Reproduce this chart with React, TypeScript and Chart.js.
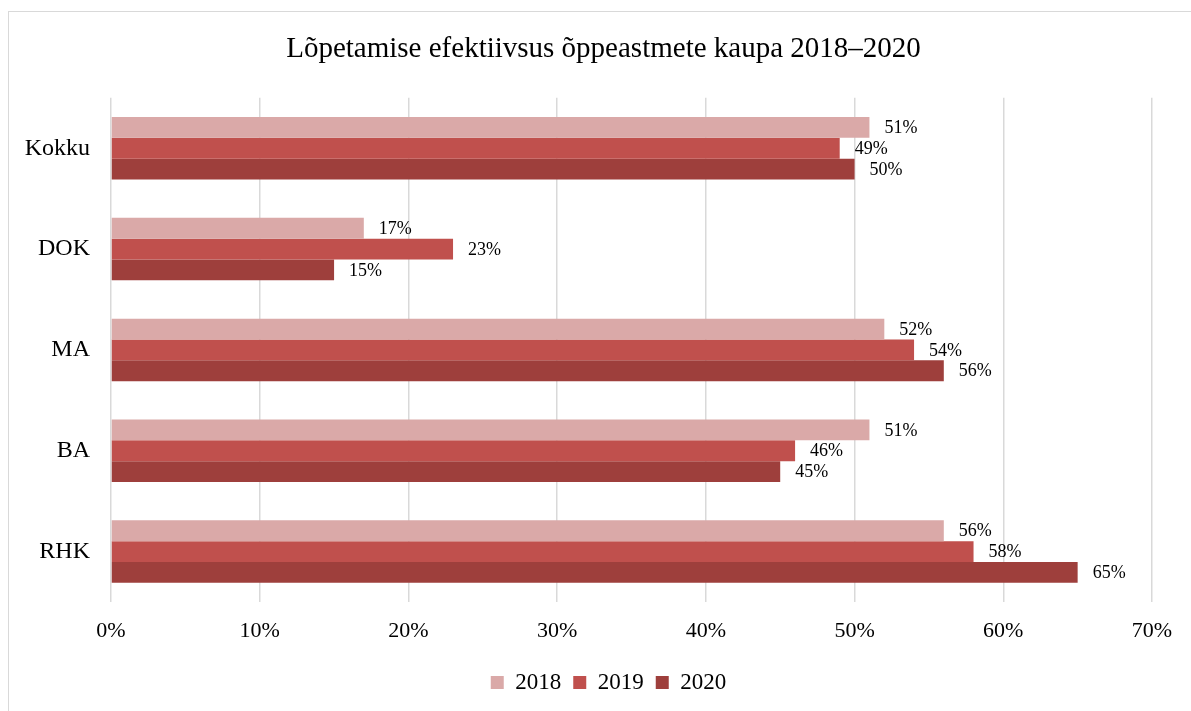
import React, { useEffect, useRef } from "react";
import { Chart, registerables } from "chart.js";

Chart.register(...registerables);

const categories = ["Kokku", "DOK", "MA", "BA", "RHK"];
const seriesNames = ["2018", "2019", "2020"];
const values2018 = [51, 17, 52, 51, 56];
const values2019 = [49, 23, 54, 46, 58];
const values2020 = [50, 15, 56, 45, 65];
const colors = ["#DAA9A8", "#C0504D", "#9E3F3C"];
const title = "Lõpetamise efektiivsus õppeastmete kaupa 2018–2020";

const FONT = '"Liberation Serif", "Times New Roman", serif';

const valueLabels = {
  id: "valueLabels",
  afterLayout(chart: any) {
    if (chart.titleBlock) {
      chart.titleBlock.left += 23;
      chart.titleBlock.right += 23;
    }
    if (chart.legend) {
      chart.legend.left += 28;
      chart.legend.right += 28;
    }
  },
  afterDatasetsDraw(chart: any) {
    const ctx = chart.ctx;
    ctx.save();
    ctx.font = `18px ${FONT}`;
    ctx.fillStyle = "#000";
    ctx.textAlign = "left";
    ctx.textBaseline = "middle";
    chart.data.datasets.forEach((ds: any, i: number) => {
      const meta = chart.getDatasetMeta(i);
      meta.data.forEach((bar: any, j: number) => {
        ctx.fillText(ds.data[j] + "%", bar.x + 15, bar.y + 1);
      });
    });
    ctx.restore();
  },
};

export default function App() {
  const ref = useRef<HTMLCanvasElement>(null);
  useEffect(() => {
    if (!ref.current) return;
    const chart = new Chart(ref.current, {
      type: "bar",
      data: {
        labels: categories,
        datasets: [values2018, values2019, values2020].map((d, i) => ({
          label: seriesNames[i],
          data: d,
          backgroundColor: colors[i],
          borderWidth: 0,
          categoryPercentage: 0.62,
          barPercentage: 1,
        })),
      },
      options: {
        indexAxis: "y",
        responsive: false,
        animation: false,
        layout: { padding: { left: 0, right: 39, top: 0, bottom: 7 } },
        scales: {
          x: {
            min: 0,
            max: 70,
            ticks: {
              stepSize: 10,
              callback: (v: any) => v + "%",
              font: { family: FONT, size: 22 },
              color: "#000",
              padding: 16,
            },
            grid: { color: "#d9d9d9", lineWidth: 1.5, drawTicks: false },
            border: { display: false },
            afterFit: (s: any) => {
              s.height = 57;
            },
          },
          y: {
            ticks: {
              font: { family: FONT, size: 24 },
              color: "#000",
              padding: 21,
              crossAlign: "near",
            },
            grid: { display: false, drawTicks: false },
            border: { display: false },
            afterFit: (s: any) => {
              s.width = 102;
            },
          },
        },
        plugins: {
          title: {
            display: true,
            text: title,
            color: "#000",
            font: { family: FONT, size: 29, weight: "normal" },
            padding: { top: 20, bottom: 31 },
          },
          legend: {
            position: "bottom",
            labels: {
              font: { family: FONT, size: 23 },
              color: "#000",
              boxWidth: 13,
              boxHeight: 13,
              padding: 12,
            },
          },
          tooltip: { enabled: false },
        },
      },
      plugins: [valueLabels],
    } as any);
    return () => chart.destroy();
  }, []);
  return (
    <div
      style={{
        position: "absolute",
        left: 8,
        top: 11,
        width: 1183,
        height: 700,
        borderLeft: "1px solid #d9d9d9",
        borderTop: "1px solid #d9d9d9",
        overflow: "hidden",
      }}
    >
      <canvas ref={ref} width={1182} height={699} style={{ display: "block" }} />
    </div>
  );
}
